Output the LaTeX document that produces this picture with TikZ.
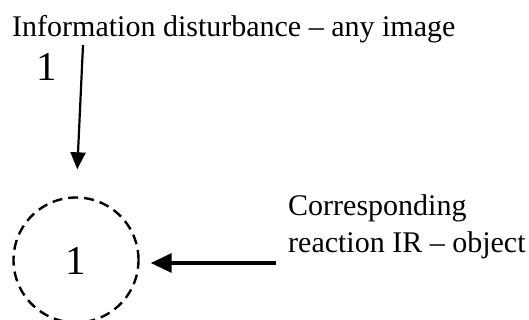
\documentclass[tikz,border=0pt]{standalone}
\usepackage{fontspec}
\setmainfont{Liberation Serif}
\usetikzlibrary{arrows.meta}
\begin{document}
\begin{tikzpicture}[x=1pt,y=-1pt,
  lbl/.style={inner sep=0pt, font=\fontsize{30}{37}\selectfont},
  big/.style={inner sep=0pt, font=\fontsize{41}{42}\selectfont},
  arr/.style={line width=2.2pt, -{Triangle[length=17pt,width=15pt]}},
  harr/.style={line width=3.2pt, -{Triangle[length=21pt,width=19pt]}},
  dcirc/.style={circle, draw, line width=2.4pt, dash pattern=on 10pt off 6pt, minimum size=125pt, inner sep=0pt}]
\useasboundingbox (0,0) rectangle (529,320);
\node[lbl, anchor=base west] (info) at (12,37) {Information disturbance -- any image};
\node[big, anchor=base west] (one) at (36,81) {1};
\node[dcirc] (circ) at (76,260) {};
\node[big, anchor=base] (cone) at (76,274) {1};
\node[lbl, anchor=base west, align=left] (react) at (288,252) {Corresponding\\reaction IR -- object};
\coordinate (vs) at (83,45);
\coordinate (hs) at (276,263);
\draw[arr, shorten >=27pt] (vs) -- (circ.north);
\draw[harr, shorten >=11pt] (hs) -- (circ.east |- hs);
\end{tikzpicture}
\end{document}
